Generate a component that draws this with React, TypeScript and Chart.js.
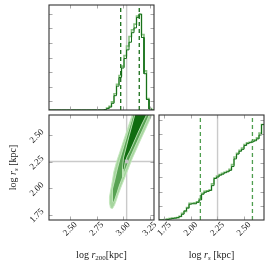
import React, { useEffect, useRef } from 'react';
import { Chart, registerables } from 'chart.js';

Chart.register(...registerables);

// ---------------- data ----------------
const r200Range = [2.3, 3.29];
const rsRange = [1.7, 2.69];
const histMax = 110;

const r200Ticks = [2.5, 2.75, 3.0, 3.25];
const r200TickLabels = ['2.50', '2.75', '3.00', '3.25'];
const rsTicks = [1.75, 2.0, 2.25, 2.5];
const rsTickLabels = ['1.75', '2.00', '2.25', '2.50'];
const r200HistTicks = [9.4, 24.6, 39.8, 55, 70.2, 85.4, 100.6];
const rsHistTicks = [14.4, 29.3, 44.7, 59.7, 74.1, 89.8, 104.8];

// 42 bins over the full range
const r200HistLight = [
  0, 0, 0, 0, 0, 0, 0, 0, 0, 0, 0, 0, 0, 0, 0, 0, 0, 0, 0, 0, 0, 0, 0,
  2, 4, 8.5, 17, 27, 36, 46, 57, 67, 77, 84, 90, 98.5, 100, 79, 41, 12, 1.5, 0,
];
const r200HistDark = [
  0, 0, 0, 0, 0, 0, 0, 0, 0, 0, 0, 0, 0, 0, 0, 0, 0, 0, 0, 0, 0, 0, 0.5,
  1.5, 3, 7, 15, 25, 34, 44, 54, 63, 71, 81, 86, 97, 100.5, 76, 38, 11, 1, 0,
];
const rsHistLight = [
  0, 0, 0.5, 1, 1.5, 2, 2, 2.5, 4, 7, 9, 13, 17.5, 17.5, 18, 19, 22, 28, 30, 30.5, 31.5,
  38, 44, 46, 47.5, 49, 50, 51, 53, 58, 66, 70, 73, 75.5, 79, 81, 81.5, 82.5, 84, 86, 91, 100,
];
const rsHistDark = [
  0, 0, 0, 0.5, 1, 1.5, 2, 2.5, 3.5, 6, 9.5, 12.5, 16.5, 17, 17, 18.5, 21, 27, 29, 30, 31,
  36, 43.5, 45, 47, 48, 49.5, 50.5, 52, 56, 64, 69, 72, 74, 78, 80, 81, 82, 83, 85, 89, 100,
];

const r200Quantiles = [2.976, 3.151];
const rsQuantiles = [2.09, 2.581];
const r200Truth = 3.032;
const rsTruth = 2.252;

// credible-region contours (log r200, log rs)
const outerX = [2.88, 2.87, 2.87, 2.88, 2.894, 2.911, 2.936, 2.968, 3.002, 3.04, 3.078, 3.092, 3.281, 3.262, 3.215, 3.167, 3.125, 3.087, 3.054, 3.017, 2.979, 2.951, 2.932, 2.918, 2.899, 2.88];
const outerY = [1.813, 1.86, 1.917, 1.973, 2.049, 2.153, 2.247, 2.341, 2.445, 2.558, 2.671, 2.737, 2.737, 2.671, 2.567, 2.464, 2.369, 2.285, 2.2, 2.105, 2.011, 1.936, 1.879, 1.841, 1.808, 1.813];
const midX = [2.899, 2.894, 2.903, 2.92, 2.944, 2.969, 3.001, 3.034, 3.068, 3.1, 3.257, 3.233, 3.191, 3.144, 3.101, 3.064, 3.031, 2.998, 2.965, 2.941, 2.922, 2.908, 2.899];
const midY = [1.87, 1.926, 1.992, 2.077, 2.181, 2.275, 2.379, 2.492, 2.605, 2.718, 2.718, 2.662, 2.567, 2.464, 2.369, 2.285, 2.2, 2.115, 2.03, 1.955, 1.898, 1.865, 1.87];
const innerX = [2.991, 2.993, 3.002, 3.021, 3.05, 3.078, 3.106, 3.116, 3.229, 3.215, 3.177, 3.134, 3.097, 3.064, 3.035, 3.017, 3.007, 2.998, 2.991];
const innerY = [2.105, 2.19, 2.285, 2.36, 2.473, 2.577, 2.681, 2.737, 2.737, 2.681, 2.605, 2.511, 2.426, 2.351, 2.294, 2.237, 2.181, 2.105, 2.105];

// ---------------- styles ----------------
const COL = {
  histDark: '#17701a',
  histLight: '#86c07f',
  qTop: '#1a6e1a',
  qRight: '#4f9e4f',
  truth: '#cacaca',
  outer: '#a6d59e',
  mid: '#58a253',
  inner: '#106c10',
  outline: '#c4e8bd',
};
const FONT = '"Liberation Serif", "Times New Roman", serif';

type Part = { t: string; it?: boolean; sub?: boolean };
const r200Title: Part[] = [{ t: 'log ' }, { t: 'r', it: true }, { t: '200', sub: true }, { t: '[kpc]' }];
const rsTitle: Part[] = [{ t: 'log ' }, { t: 'r', it: true }, { t: 's', it: true, sub: true }, { t: ' [kpc]' }];

function drawRich(ctx: CanvasRenderingContext2D, parts: Part[], cx: number, cy: number, rot: number) {
  const fontFor = (p: Part) => `${p.it ? 'italic ' : ''}${p.sub ? 7 : 10}px ${FONT}`;
  let total = 0;
  const ws = parts.map((p) => {
    ctx.font = fontFor(p);
    const w = ctx.measureText(p.t).width;
    total += w;
    return w;
  });
  ctx.save();
  ctx.translate(cx, cy);
  ctx.rotate(rot);
  ctx.textAlign = 'left';
  ctx.textBaseline = 'alphabetic';
  let x = -total / 2;
  parts.forEach((p, i) => {
    ctx.font = fontFor(p);
    ctx.fillText(p.t, x, p.sub ? 5.5 : 3.5);
    x += ws[i];
  });
  ctx.restore();
}

type DecorOpts = {
  xTicks: number[];
  yTicks: number[];
  xLabels?: string[];
  yLabels?: string[];
  xTitle?: Part[];
  yTitle?: Part[];
};

function decor(o: DecorOpts) {
  return {
    id: 'decor',
    afterDraw(chart: any) {
      const { ctx, chartArea: a } = chart;
      const xs = chart.scales.x;
      const ys = chart.scales.y;
      ctx.save();
      ctx.strokeStyle = '#a9a9a9';
      ctx.lineWidth = 1;
      ctx.beginPath();
      o.xTicks.forEach((v) => {
        const p = Math.round(xs.getPixelForValue(v)) + 0.5;
        ctx.moveTo(p, a.bottom);
        ctx.lineTo(p, a.bottom - 3.5);
        ctx.moveTo(p, a.top);
        ctx.lineTo(p, a.top + 3.5);
      });
      o.yTicks.forEach((v) => {
        const p = Math.round(ys.getPixelForValue(v)) + 0.5;
        ctx.moveTo(a.left, p);
        ctx.lineTo(a.left + 3.5, p);
        ctx.moveTo(a.right, p);
        ctx.lineTo(a.right - 3.5, p);
      });
      ctx.stroke();
      ctx.strokeStyle = '#343434';
      ctx.lineWidth = 1.1;
      ctx.strokeRect(a.left, a.top, a.right - a.left, a.bottom - a.top);

      ctx.fillStyle = '#1a1a1a';
      ctx.font = `9px ${FONT}`;
      ctx.textAlign = 'center';
      ctx.textBaseline = 'middle';
      if (o.xLabels) {
        o.xTicks.forEach((v, i) => {
          ctx.save();
          ctx.translate(xs.getPixelForValue(v), a.bottom + 9);
          ctx.rotate(-Math.PI / 4);
          ctx.fillText(o.xLabels![i], 0, 0);
          ctx.restore();
        });
      }
      if (o.yLabels) {
        o.yTicks.forEach((v, i) => {
          ctx.save();
          ctx.translate(a.left - 12, ys.getPixelForValue(v) + 1);
          ctx.rotate(-Math.PI / 4);
          ctx.fillText(o.yLabels![i], 0, 0);
          ctx.restore();
        });
      }
      ctx.fillStyle = '#1a1a1a';
      if (o.xTitle) drawRich(ctx, o.xTitle, (a.left + a.right) / 2, a.bottom + 34, 0);
      if (o.yTitle) drawRich(ctx, o.yTitle, a.left - 37, (a.top + a.bottom) / 2, -Math.PI / 2);
      ctx.restore();
    },
  };
}

function stepPoints(range: number[], counts: number[]) {
  const w = (range[1] - range[0]) / counts.length;
  const pts: { x: number; y: number }[] = [];
  counts.forEach((c, i) => {
    pts.push({ x: range[0] + i * w, y: c });
    pts.push({ x: range[0] + (i + 1) * w, y: c });
  });
  return pts;
}

const zip = (xs: number[], ys: number[]) => xs.map((x, i) => ({ x, y: ys[i] }));
const vline = (v: number, lo: number, hi: number) => [{ x: v, y: lo }, { x: v, y: hi }];
const hline = (v: number, lo: number, hi: number) => [{ x: lo, y: v }, { x: hi, y: v }];

function baseOptions(pad: any, xr: number[], yr: number[]) {
  return {
    responsive: false,
    animation: false,
    devicePixelRatio: 1,
    events: [],
    layout: { padding: pad },
    plugins: { legend: { display: false }, tooltip: { enabled: false }, title: { display: false } },
    elements: { point: { radius: 0 }, line: { tension: 0 } },
    scales: {
      x: { type: 'linear', display: false, min: xr[0], max: xr[1] },
      y: { type: 'linear', display: false, min: yr[0], max: yr[1] },
    },
  };
}

function topConfig(): any {
  return {
    type: 'line',
    data: {
      datasets: [
        ...r200Quantiles.map((q) => ({ data: vline(q, 0, histMax), borderColor: COL.qTop, borderWidth: 1.3, borderDash: [4, 3] })),
        { data: stepPoints(r200Range, r200HistDark), borderColor: COL.histDark, borderWidth: 1 },
        { data: stepPoints(r200Range, r200HistLight), borderColor: COL.histLight, borderWidth: 1.6 },
        { data: vline(r200Truth, 0, histMax), borderColor: COL.truth, borderWidth: 1.4 },
      ],
    },
    options: baseOptions({ left: 49, top: 5, right: 121, bottom: 156 }, r200Range, [0, histMax]),
    plugins: [decor({ xTicks: r200Ticks, yTicks: r200HistTicks })],
  };
}

function jointConfig(): any {
  const poly = (xs: number[], ys: number[], bg: string) => ({
    data: zip(xs, ys),
    fill: 'shape',
    backgroundColor: bg,
    borderColor: COL.outline,
    borderWidth: 0.9,
  });
  return {
    type: 'line',
    data: {
      datasets: [
        {
          data: [{ x: r200Truth, y: rsTruth }],
          showLine: false,
          pointStyle: 'rect',
          pointRadius: 2.6,
          pointBackgroundColor: '#c2c2c2',
          pointBorderWidth: 0,
        },
        poly(innerX, innerY, COL.inner),
        poly(midX, midY, COL.mid),
        poly(outerX, outerY, COL.outer),
        { data: vline(r200Truth, rsRange[0], rsRange[1]), borderColor: COL.truth, borderWidth: 1.4 },
        { data: hline(rsTruth, r200Range[0], r200Range[1]), borderColor: COL.truth, borderWidth: 1.4 },
      ],
    },
    options: baseOptions({ left: 49, top: 115, right: 121, bottom: 46 }, r200Range, rsRange),
    plugins: [
      decor({
        xTicks: r200Ticks,
        yTicks: rsTicks,
        xLabels: r200TickLabels,
        yLabels: rsTickLabels,
        xTitle: r200Title,
        yTitle: rsTitle,
      }),
    ],
  };
}

function rightConfig(): any {
  return {
    type: 'line',
    data: {
      datasets: [
        ...rsQuantiles.map((q) => ({ data: vline(q, 0, histMax), borderColor: COL.qRight, borderWidth: 1.3, borderDash: [4, 3] })),
        { data: stepPoints(rsRange, rsHistDark), borderColor: COL.histDark, borderWidth: 1 },
        { data: stepPoints(rsRange, rsHistLight), borderColor: COL.histLight, borderWidth: 1.6 },
        { data: vline(rsTruth, 0, histMax), borderColor: COL.truth, borderWidth: 1.4 },
      ],
    },
    options: baseOptions({ left: 159, top: 115, right: 11, bottom: 46 }, rsRange, [0, histMax]),
    plugins: [decor({ xTicks: rsTicks, yTicks: rsHistTicks, xLabels: rsTickLabels, xTitle: rsTitle })],
  };
}

export default function App() {
  const c1 = useRef<HTMLCanvasElement>(null);
  const c2 = useRef<HTMLCanvasElement>(null);
  const c3 = useRef<HTMLCanvasElement>(null);

  useEffect(() => {
    const charts = [
      new Chart(c1.current!, topConfig()),
      new Chart(c2.current!, jointConfig()),
      new Chart(c3.current!, rightConfig()),
    ];
    return () => charts.forEach((c) => c.destroy());
  }, []);

  const cs: React.CSSProperties = { position: 'absolute', left: 0, top: 0 };
  return (
    <div style={{ position: 'absolute', left: 0, top: 0, width: 275, height: 266, background: '#fff' }}>
      <canvas ref={c1} width={275} height={266} style={cs} />
      <canvas ref={c2} width={275} height={266} style={cs} />
      <canvas ref={c3} width={275} height={266} style={cs} />
    </div>
  );
}
